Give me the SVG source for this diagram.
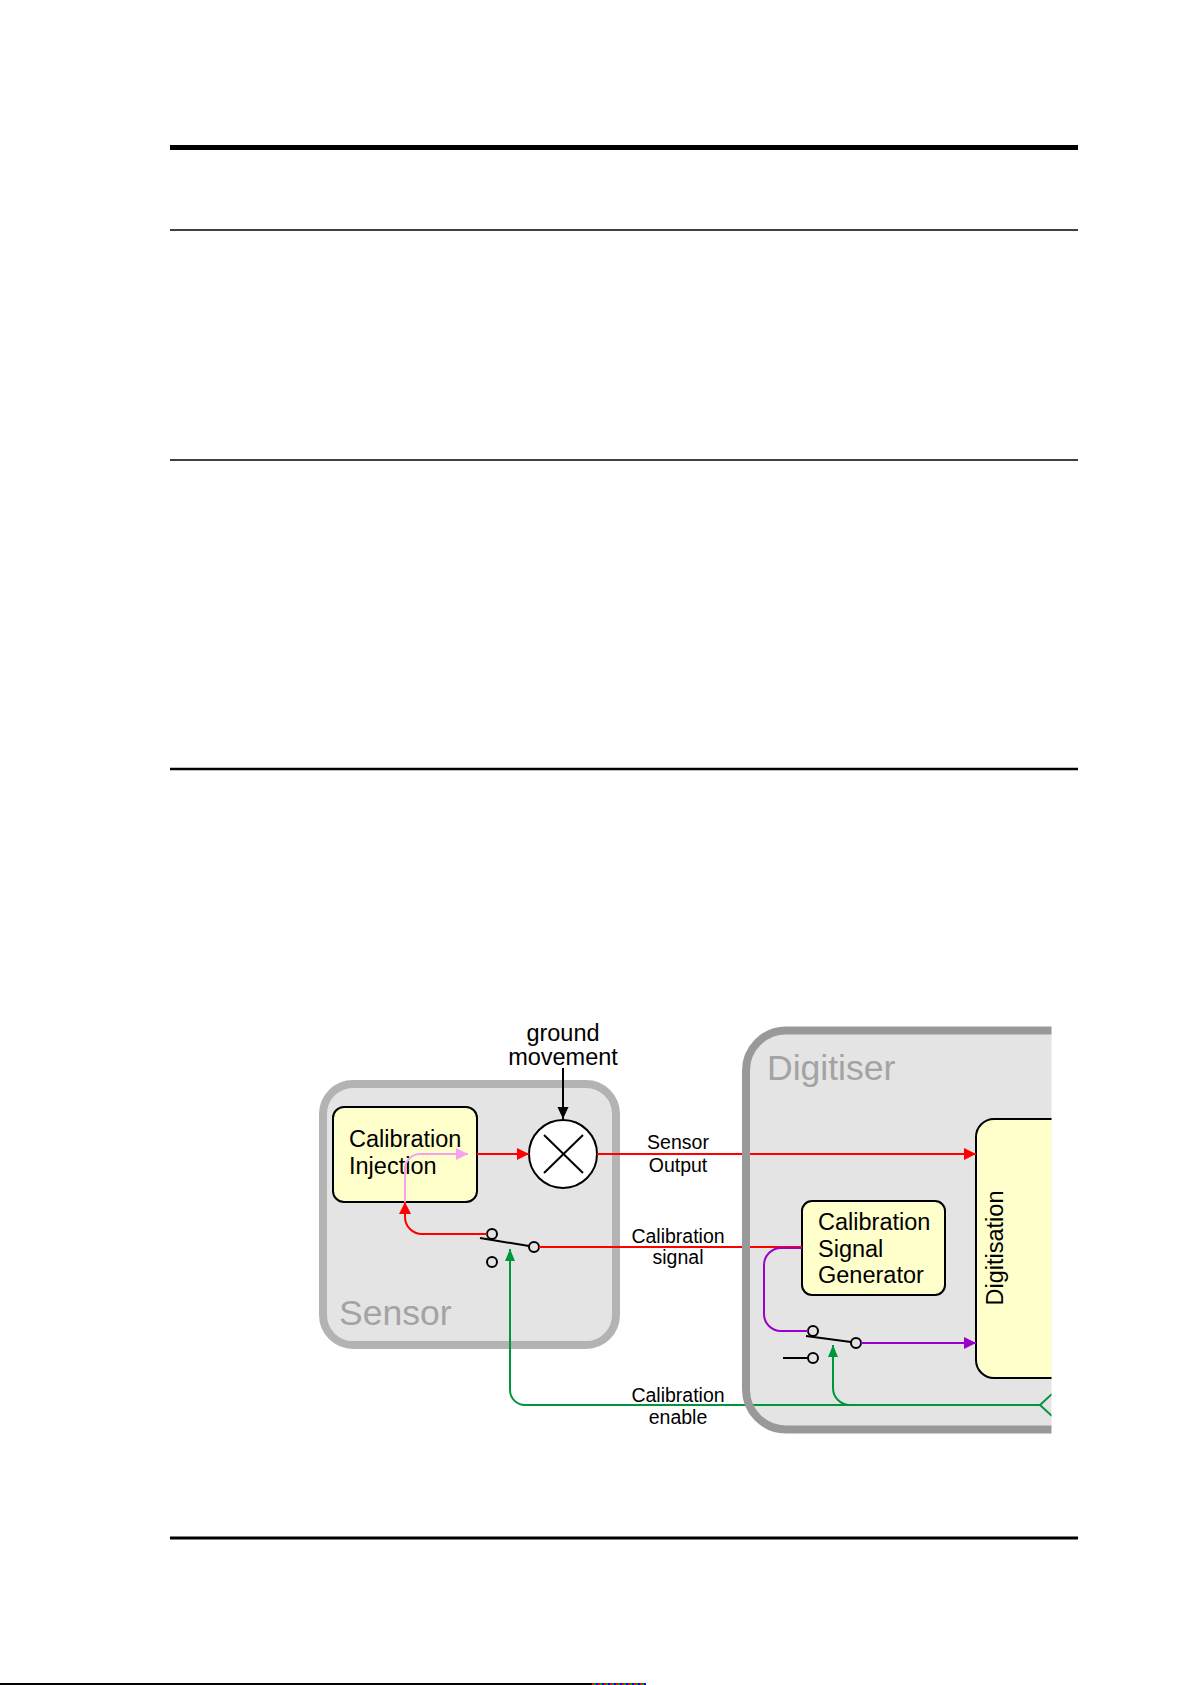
<svg xmlns="http://www.w3.org/2000/svg" width="1191" height="1685" viewBox="0 0 1191 1685">
<style>
  text { font-family: "Liberation Sans", Arial, sans-serif; }
  .rule { stroke: #000; fill: none; }
  .box { fill: #ffffcc; stroke: #000; stroke-width: 2; }
  .lbl { font-size: 23.5px; fill: #000; }
  .small { font-size: 19.5px; fill: #000; text-anchor: middle; }
  .big { font-size: 35.5px; fill: #a3a3a3; }
  .red { stroke: #ff0000; stroke-width: 2; fill: none; }
  .pink { stroke: #f7a0f0; stroke-width: 2; fill: none; }
  .purple { stroke: #9900cc; stroke-width: 2; fill: none; }
  .green { stroke: #00963c; stroke-width: 2; fill: none; }
  .blk { stroke: #000; stroke-width: 2; fill: none; }
  .contact { fill: #e4e4e4; stroke: #000; stroke-width: 2; }
</style>
<defs>
  <marker id="aRed" markerUnits="userSpaceOnUse" markerWidth="12" markerHeight="12" refX="12" refY="6" orient="auto"><path d="M0,0 L12,6 L0,12 z" fill="#ff0000"/></marker>
  <marker id="aPink" markerUnits="userSpaceOnUse" markerWidth="12" markerHeight="12" refX="12" refY="6" orient="auto"><path d="M0,0 L12,6 L0,12 z" fill="#f7a0f0"/></marker>
  <marker id="aPurple" markerUnits="userSpaceOnUse" markerWidth="12" markerHeight="12" refX="12" refY="6" orient="auto"><path d="M0,0 L12,6 L0,12 z" fill="#9900cc"/></marker>
  <marker id="aGreen" markerUnits="userSpaceOnUse" markerWidth="12" markerHeight="12" refX="12" refY="6" orient="auto"><path d="M0,1 L12,6 L0,11 z" fill="#00963c"/></marker>
  <marker id="aBlack" markerUnits="userSpaceOnUse" markerWidth="12" markerHeight="12" refX="12" refY="6" orient="auto"><path d="M0,0.5 L12,6 L0,11.5 z" fill="#000"/></marker>
  <clipPath id="clip"><rect x="0" y="0" width="1051.5" height="1685"/></clipPath>
</defs>

<rect width="1191" height="1685" fill="#fff"/>

<g id="page-rules">
  <line class="rule" x1="170" y1="147.5" x2="1078" y2="147.5" stroke-width="5"/>
  <line class="rule" x1="170" y1="230" x2="1078" y2="230" stroke-width="1.5"/>
  <line class="rule" x1="170" y1="460" x2="1078" y2="460" stroke-width="1.5"/>
  <line class="rule" x1="170" y1="769" x2="1078" y2="769" stroke-width="2.3"/>
  <line class="rule" x1="170" y1="1538" x2="1078" y2="1538" stroke-width="3"/>
  <line class="rule" x1="0" y1="1684" x2="592" y2="1684" stroke-width="2"/>
  <line x1="592" y1="1684" x2="646" y2="1684" stroke="#ff0000" stroke-width="2" stroke-dasharray="2 4"/>
  <line x1="594" y1="1684" x2="646" y2="1684" stroke="#00a000" stroke-width="2" stroke-dasharray="2 4"/>
  <line x1="596" y1="1684" x2="646" y2="1684" stroke="#0000ff" stroke-width="2" stroke-dasharray="2 4"/>
</g>

<g clip-path="url(#clip)">
  <g id="sensor">
    <rect x="323" y="1084" width="293" height="261" rx="30" fill="#e4e4e4" stroke="#b3b3b3" stroke-width="8"/>
    <text class="big" x="339" y="1325">Sensor</text>
  </g>

  <g id="digitiser">
    <rect x="746" y="1030.5" width="500" height="399" rx="40" fill="#e4e4e4"/>
    <text class="big" x="767" y="1080">Digitiser</text>
  </g>

  <g id="calibration-injection">
    <rect class="box" x="333" y="1107" width="144" height="95" rx="11"/>
    <text class="lbl" x="349" y="1147">Calibration</text>
    <text class="lbl" x="349" y="1174">Injection</text>
  </g>

  <g id="mixer">
    <circle cx="563" cy="1154" r="34" fill="#fff" stroke="#000" stroke-width="2"/>
    <line class="blk" x1="544" y1="1135" x2="583" y2="1173"/>
    <line class="blk" x1="583" y1="1135" x2="544" y2="1173"/>
  </g>

  <g id="ground-movement">
    <text class="lbl" x="563" y="1041" text-anchor="middle">ground</text>
    <text class="lbl" x="563" y="1065" text-anchor="middle">movement</text>
  </g>

  <g id="calibration-signal-generator">
    <rect class="box" x="802" y="1201" width="143" height="94" rx="10"/>
    <text class="lbl" x="818" y="1230">Calibration</text>
    <text class="lbl" x="818" y="1257">Signal</text>
    <text class="lbl" x="818" y="1283">Generator</text>
  </g>

  <g id="digitisation">
    <rect class="box" x="976" y="1119" width="200" height="259" rx="18"/>
    <text class="lbl" transform="translate(1003,1248) rotate(-90)" x="0" y="0" text-anchor="middle">Digitisation</text>
  </g>

  <g id="sensor-switch">
    <line class="blk" x1="480" y1="1238" x2="529" y2="1246"/>
    <circle class="contact" cx="492" cy="1234" r="5"/>
    <circle class="contact" cx="534" cy="1247" r="5"/>
    <circle class="contact" cx="492" cy="1262" r="5"/>
  </g>

  <g id="digitiser-switch">
    <line class="blk" x1="806" y1="1336" x2="851" y2="1342"/>
    <line class="blk" x1="783" y1="1358" x2="808" y2="1358"/>
    <circle class="contact" cx="813" cy="1331" r="5"/>
    <circle class="contact" cx="856" cy="1343" r="5"/>
    <circle class="contact" cx="813" cy="1358" r="5"/>
  </g>

  <g id="connectors">
    <path class="blk" d="M563,1068 L563,1119" stroke-width="1.5" marker-end="url(#aBlack)"/>
    <path class="red" d="M477,1154 L529,1154" marker-end="url(#aRed)"/>
    <path class="red" d="M597,1154 L976,1154" marker-end="url(#aRed)"/>
    <path class="pink" d="M405,1202 L405,1169 A15,15 0 0 1 420,1154 L468,1154" marker-end="url(#aPink)"/>
    <path class="red" d="M539,1247 L802,1247"/>
    <path class="red" d="M487,1234 L422,1234 A17,17 0 0 1 405,1217 L405,1202" marker-end="url(#aRed)"/>
    <path class="purple" d="M802,1248 L781,1248 A17,17 0 0 0 764,1265 L764,1314 A17,17 0 0 0 781,1331 L808,1331"/>
    <path class="purple" d="M861,1343 L976,1343" marker-end="url(#aPurple)"/>
    <path class="green" d="M1040,1405 L525,1405 A15,15 0 0 1 510,1390 L510,1249" marker-end="url(#aGreen)"/>
    <path class="green" d="M850,1405 A17,17 0 0 1 833,1388 L833,1345" marker-end="url(#aGreen)"/>
    <path class="green" d="M1052,1394 L1040,1405 L1052,1416"/>
  </g>

  <g id="digitiser-border">
    <rect x="746" y="1030.5" width="500" height="399" rx="40" fill="none" stroke="#999999" stroke-width="8"/>
  </g>

  <g id="connector-labels">
    <text class="small" x="678" y="1149">Sensor</text>
    <text class="small" x="678" y="1172">Output</text>
    <text class="small" x="678" y="1243">Calibration</text>
    <text class="small" x="678" y="1264">signal</text>
    <text class="small" x="678" y="1402">Calibration</text>
    <text class="small" x="678" y="1424">enable</text>
  </g>
</g>
</svg>
